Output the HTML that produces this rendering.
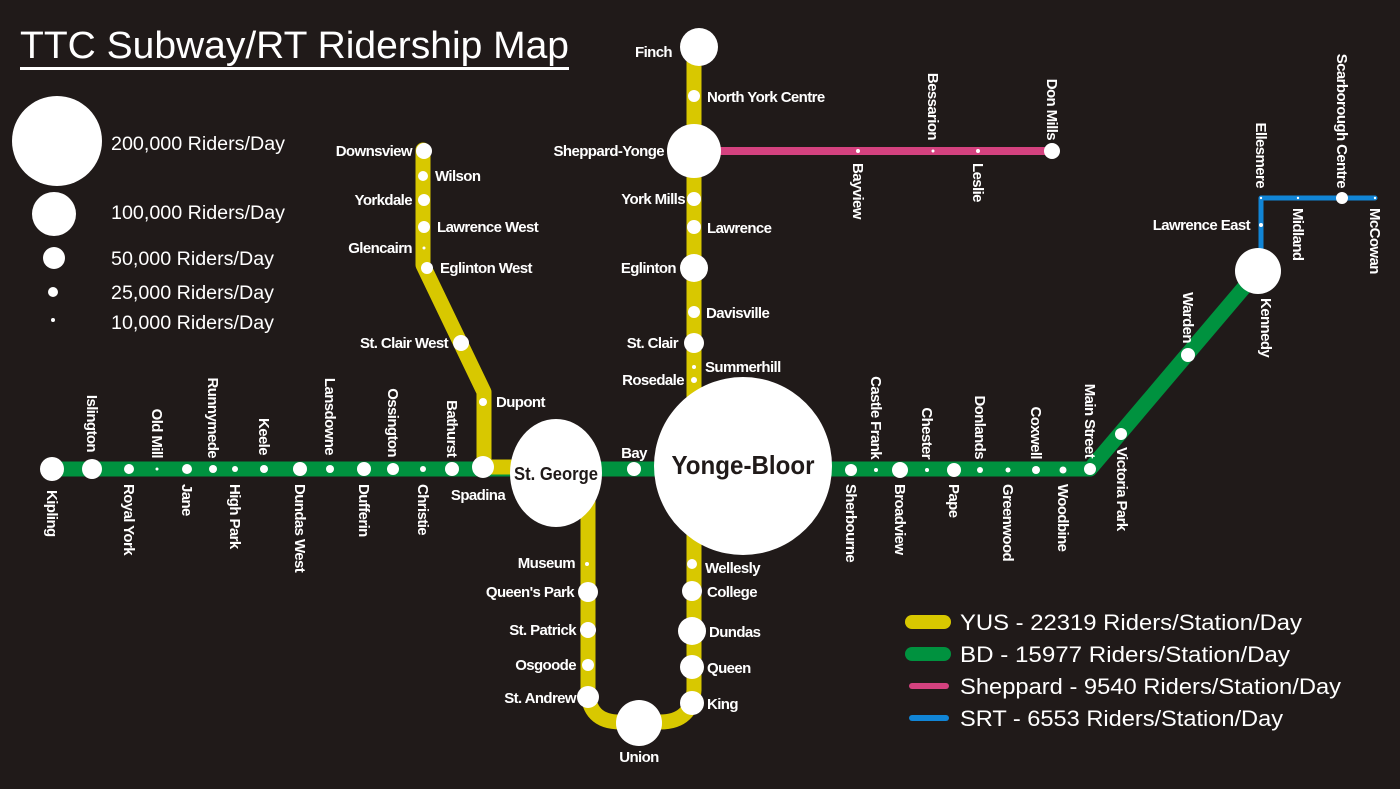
<!DOCTYPE html>
<html><head><meta charset="utf-8"><style>
html,body{margin:0;padding:0;background:#201a19;}
svg{display:block}
.l{font-family:"Liberation Sans Narrow","Liberation Sans",sans-serif;font-weight:bold;font-size:15px;fill:#fff;letter-spacing:-0.6px}
.g{font-family:"Liberation Sans",sans-serif;font-size:19px;fill:#fff}
.k{font-family:"Liberation Sans",sans-serif;font-size:22px;fill:#fff}
</style></head><body>
<svg width="1400" height="789" viewBox="0 0 1400 789" xmlns="http://www.w3.org/2000/svg">
<rect width="1400" height="789" fill="#201a19"/>
<text x="20" y="58" font-family="Liberation Sans,sans-serif" font-size="38" fill="#fff" textLength="549" lengthAdjust="spacingAndGlyphs">TTC Subway/RT Ridership Map</text>
<rect x="20" y="67" width="549" height="3" fill="#fff"/>
<ellipse cx="57" cy="141" rx="45" ry="45" fill="#fff"/>
<circle cx="54" cy="214" r="22" fill="#fff"/>
<circle cx="54" cy="258" r="11" fill="#fff"/>
<circle cx="53" cy="292" r="5" fill="#fff"/>
<circle cx="53" cy="320" r="2" fill="#fff"/>
<text class="g" x="111" y="150" textLength="174" lengthAdjust="spacingAndGlyphs">200,000 Riders/Day</text>
<text class="g" x="111" y="219" textLength="174" lengthAdjust="spacingAndGlyphs">100,000 Riders/Day</text>
<text class="g" x="111" y="265" textLength="163" lengthAdjust="spacingAndGlyphs">50,000 Riders/Day</text>
<text class="g" x="111" y="299" textLength="163" lengthAdjust="spacingAndGlyphs">25,000 Riders/Day</text>
<text class="g" x="111" y="329" textLength="163" lengthAdjust="spacingAndGlyphs">10,000 Riders/Day</text>

<g fill="none" stroke-linejoin="round" stroke-linecap="round">
<path d="M52 469 H1090 L1258 271" stroke="#00923f" stroke-width="15"/>
<path d="M694 151 H1052" stroke="#d4427f" stroke-width="8"/>
<path d="M1261 271 V198 H1375" stroke="#1185d6" stroke-width="5"/>
<path d="M694 47 V690 Q692 722 660 722 H620 Q588 722 588 690 V480" stroke="#d8c800" stroke-width="15"/>
<path d="M540 467 H484 V392 L423 265 V150" stroke="#d8c800" stroke-width="15"/>
</g>

<g fill="#fff">
<circle cx="52" cy="469" r="12"/><circle cx="92" cy="469" r="10"/><circle cx="129" cy="469" r="5"/>
<circle cx="157" cy="469" r="1.5"/><circle cx="187" cy="469" r="5"/><circle cx="213" cy="469" r="4"/>
<circle cx="235" cy="469" r="3"/><circle cx="264" cy="469" r="4"/><circle cx="300" cy="469" r="7"/>
<circle cx="330" cy="469" r="4"/><circle cx="364" cy="469" r="7"/><circle cx="393" cy="469" r="6"/>
<circle cx="423" cy="469" r="3"/><circle cx="452" cy="469" r="7"/><circle cx="483" cy="467" r="11"/>
<circle cx="634" cy="469" r="7"/>
<circle cx="851" cy="470" r="6"/><circle cx="876" cy="470" r="2"/><circle cx="900" cy="470" r="8"/>
<circle cx="927" cy="470" r="2"/><circle cx="954" cy="470" r="7"/><circle cx="980" cy="470" r="3"/>
<circle cx="1008" cy="470" r="2.5"/><circle cx="1036" cy="470" r="4"/><circle cx="1063" cy="470" r="3.5"/>
<circle cx="1090" cy="469" r="6"/><circle cx="1121" cy="434" r="6"/><circle cx="1188" cy="355" r="7"/>
<circle cx="1258" cy="271" r="23"/>
<circle cx="699" cy="47" r="19"/><circle cx="694" cy="96" r="6"/><circle cx="694" cy="151" r="27"/>
<circle cx="694" cy="199" r="7"/><circle cx="694" cy="227" r="7"/><circle cx="694" cy="268" r="14"/>
<circle cx="694" cy="312" r="6"/><circle cx="694" cy="343" r="10"/><circle cx="694" cy="367" r="2"/>
<circle cx="694" cy="380" r="3"/>
<circle cx="692" cy="564" r="5"/><circle cx="692" cy="591" r="10"/><circle cx="692" cy="631" r="14"/>
<circle cx="692" cy="667" r="12"/><circle cx="692" cy="703" r="12"/><circle cx="639" cy="723" r="23"/>
<circle cx="587" cy="564" r="2"/><circle cx="588" cy="592" r="10"/><circle cx="588" cy="630" r="8"/>
<circle cx="588" cy="665" r="6"/><circle cx="588" cy="697" r="11"/>
<circle cx="424" cy="151" r="8"/><circle cx="423" cy="176" r="5"/><circle cx="424" cy="200" r="6"/>
<circle cx="424" cy="227" r="6"/><circle cx="424" cy="248" r="1.5"/><circle cx="427" cy="268" r="6"/>
<circle cx="461" cy="343" r="8"/><circle cx="483" cy="402" r="4"/>
<circle cx="858" cy="151" r="2"/><circle cx="933" cy="151" r="1.5"/><circle cx="978" cy="151" r="2"/><circle cx="1052" cy="151" r="8"/>
<circle cx="1261" cy="225" r="2"/><circle cx="1261" cy="198" r="1.2"/><circle cx="1298" cy="198" r="1.2"/>
<circle cx="1342" cy="198" r="6"/><circle cx="1375" cy="198" r="1.2"/>
<ellipse cx="556" cy="473" rx="46" ry="54"/>
<circle cx="743" cy="466" r="89"/>
</g>
<text x="556" y="480" text-anchor="middle" font-family="Liberation Sans Narrow,Liberation Sans,sans-serif" font-weight="bold" font-size="18" fill="#201a19" textLength="84" lengthAdjust="spacingAndGlyphs">St. George</text>
<text x="743" y="474" text-anchor="middle" font-family="Liberation Sans Narrow,Liberation Sans,sans-serif" font-weight="bold" font-size="26" fill="#201a19" textLength="143" lengthAdjust="spacingAndGlyphs">Yonge-Bloor</text>

<g class="l">
<text x="672" y="57" text-anchor="end">Finch</text>
<text x="707" y="102">North York Centre</text>
<text x="664" y="156" text-anchor="end">Sheppard-Yonge</text>
<text x="685" y="204" text-anchor="end">York Mills</text>
<text x="707" y="233">Lawrence</text>
<text x="676" y="273" text-anchor="end">Eglinton</text>
<text x="706" y="318">Davisville</text>
<text x="678" y="348" text-anchor="end">St. Clair</text>
<text x="705" y="372">Summerhill</text>
<text x="684" y="385" text-anchor="end">Rosedale</text>
<text x="705" y="573">Wellesly</text>
<text x="707" y="597">College</text>
<text x="709" y="637">Dundas</text>
<text x="707" y="673">Queen</text>
<text x="707" y="709">King</text>
<text x="639" y="762" text-anchor="middle">Union</text>
<text x="575" y="568" text-anchor="end">Museum</text>
<text x="574" y="597" text-anchor="end">Queen's Park</text>
<text x="576" y="635" text-anchor="end">St. Patrick</text>
<text x="576" y="670" text-anchor="end">Osgoode</text>
<text x="576" y="703" text-anchor="end">St. Andrew</text>
<text x="412" y="156" text-anchor="end">Downsview</text>
<text x="435" y="181">Wilson</text>
<text x="412" y="205" text-anchor="end">Yorkdale</text>
<text x="437" y="232">Lawrence West</text>
<text x="412" y="253" text-anchor="end">Glencairn</text>
<text x="440" y="273">Eglinton West</text>
<text x="448" y="348" text-anchor="end">St. Clair West</text>
<text x="496" y="407">Dupont</text>
<text x="478" y="500" text-anchor="middle">Spadina</text>
<text x="634" y="458" text-anchor="middle">Bay</text>
<text x="1250" y="230" text-anchor="end">Lawrence East</text>
</g>

<g class="l" text-anchor="end">
<text transform="translate(87,452) rotate(90)">Islington</text>
<text transform="translate(152,458) rotate(90)">Old Mill</text>
<text transform="translate(208,458) rotate(90)">Runnymede</text>
<text transform="translate(259,455) rotate(90)">Keele</text>
<text transform="translate(325,455) rotate(90)">Lansdowne</text>
<text transform="translate(388,457) rotate(90)">Ossington</text>
<text transform="translate(447,457) rotate(90)">Bathurst</text>
<text transform="translate(871,459) rotate(90)">Castle Frank</text>
<text transform="translate(922,459) rotate(90)">Chester</text>
<text transform="translate(975,459) rotate(90)">Donlands</text>
<text transform="translate(1031,459) rotate(90)">Coxwell</text>
<text transform="translate(1085,458) rotate(90)">Main Street</text>
<text transform="translate(1183,343) rotate(90)">Warden</text>
<text transform="translate(928,140) rotate(90)">Bessarion</text>
<text transform="translate(1047,140) rotate(90)">Don Mills</text>
<text transform="translate(1256,188) rotate(90)">Ellesmere</text>
<text transform="translate(1337,188) rotate(90)">Scarborough Centre</text>
</g>
<g class="l">
<text transform="translate(47,490) rotate(90)">Kipling</text>
<text transform="translate(124,484) rotate(90)">Royal York</text>
<text transform="translate(182,484) rotate(90)">Jane</text>
<text transform="translate(230,484) rotate(90)">High Park</text>
<text transform="translate(295,484) rotate(90)">Dundas West</text>
<text transform="translate(359,484) rotate(90)">Dufferin</text>
<text transform="translate(418,484) rotate(90)">Christie</text>
<text transform="translate(846,484) rotate(90)">Sherbourne</text>
<text transform="translate(895,484) rotate(90)">Broadview</text>
<text transform="translate(949,484) rotate(90)">Pape</text>
<text transform="translate(1003,484) rotate(90)">Greenwood</text>
<text transform="translate(1058,484) rotate(90)">Woodbine</text>
<text transform="translate(1117,447) rotate(90)">Victoria Park</text>
<text transform="translate(1261,298) rotate(90)">Kennedy</text>
<text transform="translate(853,163) rotate(90)">Bayview</text>
<text transform="translate(973,163) rotate(90)">Leslie</text>
<text transform="translate(1293,208) rotate(90)">Midland</text>
<text transform="translate(1370,208) rotate(90)">McCowan</text>
</g>

<g stroke-linecap="round" stroke-width="14">
<line x1="912" y1="622" x2="944" y2="622" stroke="#d8c800"/>
<line x1="912" y1="654" x2="944" y2="654" stroke="#00923f"/>
</g>
<g stroke-linecap="round" stroke-width="6">
<line x1="912" y1="686" x2="946" y2="686" stroke="#d4427f"/>
<line x1="912" y1="718" x2="946" y2="718" stroke="#1185d6"/>
</g>
<text class="k" x="960" y="630" textLength="342" lengthAdjust="spacingAndGlyphs">YUS - 22319 Riders/Station/Day</text>
<text class="k" x="960" y="662" textLength="330" lengthAdjust="spacingAndGlyphs">BD - 15977 Riders/Station/Day</text>
<text class="k" x="960" y="694" textLength="381" lengthAdjust="spacingAndGlyphs">Sheppard - 9540 Riders/Station/Day</text>
<text class="k" x="960" y="726" textLength="323" lengthAdjust="spacingAndGlyphs">SRT - 6553 Riders/Station/Day</text>
</svg>
</body></html>
